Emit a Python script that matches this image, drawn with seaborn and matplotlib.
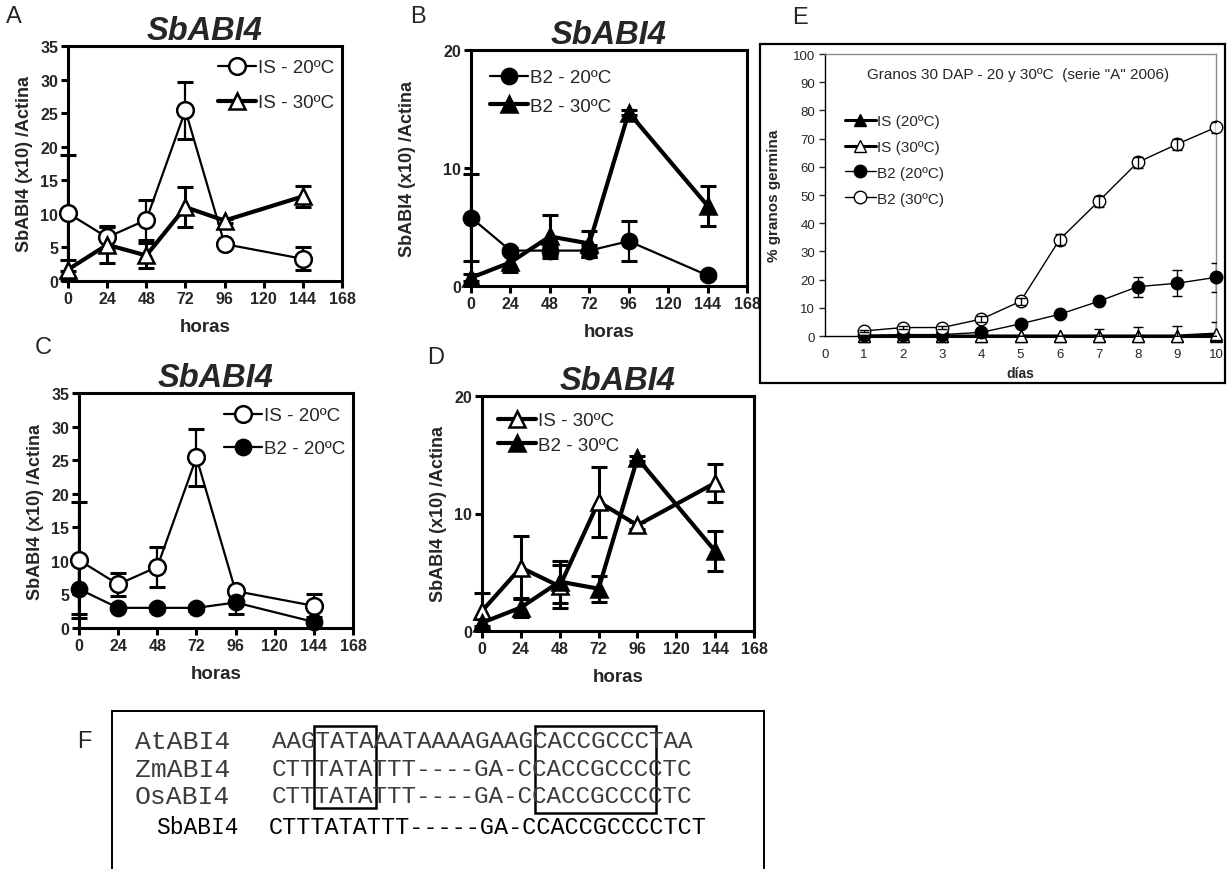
import numpy as np
import pandas as pd
import matplotlib
matplotlib.use("Agg")
import matplotlib.pyplot as plt
import seaborn as sns
from matplotlib.patches import Rectangle

sns.set_style("ticks")
plt.rcParams['font.family'] = ['Liberation Sans', 'DejaVu Sans']

# ---------------- data: SbABI4 expression (panels A-D) ----------------
hours = [0, 24, 48, 72, 96, 144]
hour_ticks = [0, 24, 48, 72, 96, 120, 144, 168]

is20 = [10.1, 6.5, 9.1, 25.4, 5.5, 3.3]
is20_err = [8.6, 1.7, 3.0, 4.2, 0.3, 1.7]
is30 = [1.7, 5.4, 3.8, 11.0, 9.0, 12.6]
is30_err = [1.5, 2.7, 1.8, 3.0, 0.3, 1.6]
b220 = [5.8, 3.0, 3.0, 3.0, 3.8, 0.9]
b220_err = [3.7, 0.2, 0.4, 0.5, 1.7, 0.2]
b230 = [0.7, 2.0, 4.2, 3.6, 14.7, 6.8]
b230_err = [0.3, 0.8, 1.8, 1.1, 0.2, 1.7]

# ---------------- data: germination (panel E) ----------------
days = [1, 2, 3, 4, 5, 6, 7, 8, 9, 10]
g_is20 = [0, 0, 0, 0, 0, 0, 0, 0, 0, 0]
g_is20_err = [0, 0, 0, 0, 0, 0, 0, 0, 0, 0]
g_is30 = [0, 0, 0, 0, 0, 0, 0, 0, 0, 0.7]
g_is30_err = [0, 0, 0, 0, 0, 0, 2.5, 3.2, 3.5, 4.3]
g_b220 = [0.2, 0.5, 0.5, 1.3, 4.3, 7.7, 12.3, 17.5, 18.7, 20.8]
g_b220_err = [0, 0.3, 0.3, 0.5, 0.8, 1.0, 0.8, 3.5, 4.6, 5.1]
g_b230 = [1.8, 3.0, 3.0, 6.0, 12.3, 34.2, 47.8, 61.6, 68.0, 74.0]
g_b230_err = [0.5, 0.5, 0.5, 1.0, 1.2, 2.0, 2.0, 2.0, 2.0, 2.0]

# ---------------- data: promoter alignment (panel F) ----------------
seq_names = ["AtABI4", "ZmABI4", "OsABI4"]
seq_texts = ["AAGTATAAATAAAAGAAGCACCGCCCTAA",
             "CTTTATATTT----GA-CCACCGCCCCTC",
             "CTTTATATTT----GA-CCACCGCCCCTC"]
sb_name = "SbABI4"
sb_text = "CTTTATATTT-----GA-CCACCGCCCCTCT"

W, H = 1227, 870
fig = plt.figure(figsize=(12.27, 8.7), dpi=100)


def axes_px(x0, y_top, x1, y_bot):
    return fig.add_axes([x0 / W, 1 - y_bot / H, (x1 - x0) / W, (y_bot - y_top) / H])


def px(x, y):
    return x / W, 1 - y / H


SER = {
    'IS20': dict(y=is20, err=is20_err, label='IS - 20ºC', marker='o', ms=12, mfc='white', lw=1.6, elw=1.6),
    'IS30': dict(y=is30, err=is30_err, label='IS - 30ºC', marker='^', ms=11, mfc='white', lw=3.0, elw=2.2),
    'B220': dict(y=b220, err=b220_err, label='B2 - 20ºC', marker='o', ms=11, mfc='black', lw=1.6, elw=1.6),
    'B230': dict(y=b230, err=b230_err, label='B2 - 30ºC', marker='^', ms=11, mfc='black', lw=3.0, elw=2.2),
}


def expr_panel(ax, keys, ymax, yticks, ylabelpad, leg_anchor, leg_spacing):
    for k in keys:
        s = SER[k]
        df = pd.DataFrame({'horas': hours, 'valor': s['y']})
        sns.lineplot(data=df, x='horas', y='valor', ax=ax, color='black',
                     linewidth=s['lw'], marker=s['marker'], markersize=s['ms'],
                     markerfacecolor=s['mfc'], markeredgecolor='black',
                     markeredgewidth=1.8, label=s['label'], errorbar=None,
                     sort=False, clip_on=False, zorder=3)
        ax.errorbar(hours, s['y'], yerr=s['err'], fmt='none', ecolor='black',
                    elinewidth=s['elw'], capsize=5.5, capthick=2.2,
                    clip_on=False, zorder=2)
    ax.set_xlim(0, 168)
    ax.set_ylim(0, ymax)
    ax.set_xticks(hour_ticks)
    ax.set_yticks(yticks)
    ax.set_xticklabels([str(t) for t in hour_ticks], fontweight='bold', fontsize=11.5)
    ax.set_yticklabels([str(t) for t in yticks], fontweight='bold', fontsize=11.5)
    ax.tick_params(direction='out', length=5, width=2.2, pad=2, color='black')
    for sp in ax.spines.values():
        sp.set_visible(True)
        sp.set_linewidth(2.2)
        sp.set_color('black')
    ax.set_xlabel('horas', fontsize=13.5, fontweight='bold', labelpad=8.5)
    ax.set_ylabel('SbABI4 (x10) /Actina', fontsize=13, fontweight='bold', labelpad=ylabelpad)
    ax.set_title('SbABI4', fontsize=23.5, fontweight='bold', fontstyle='italic', pad=5)
    ax.legend(loc='upper left', bbox_to_anchor=leg_anchor, frameon=False,
              fontsize=13.5, handlelength=2.0, handletextpad=0.15,
              borderpad=0, borderaxespad=0, labelspacing=leg_spacing)


axA = axes_px(68, 47, 342, 282)
expr_panel(axA, ['IS20', 'IS30'], 35, [0, 5, 10, 15, 20, 25, 30, 35], 5,
           ((218 - 68) / 274, (282 - 60) / 235), 0.95)

axB = axes_px(471, 51, 747, 287)
expr_panel(axB, ['B220', 'B230'], 20, [0, 10, 20], 20,
           ((490 - 471) / 276, (287 - 70) / 236), 0.6)

axC = axes_px(79, 394, 353, 629)
expr_panel(axC, ['IS20', 'B220'], 35, [0, 5, 10, 15, 20, 25, 30, 35], 5,
           ((224 - 79) / 274, (629 - 408) / 235), 0.85)

axD = axes_px(482, 397, 754, 632)
expr_panel(axD, ['IS30', 'B230'], 20, [0, 10, 20], 5,
           ((498 - 482) / 272, (632 - 413) / 235), 0.4)

# ---------------- panel E ----------------
axE = axes_px(825, 55, 1216, 337)
GS = [
    dict(y=g_is20, err=g_is20_err, label='IS (20ºC)', marker='^', ms=9, mfc='black', lw=2.2),
    dict(y=g_is30, err=g_is30_err, label='IS (30ºC)', marker='^', ms=9, mfc='white', lw=2.2),
    dict(y=g_b220, err=g_b220_err, label='B2 (20ºC)', marker='o', ms=9, mfc='black', lw=1.0),
    dict(y=g_b230, err=g_b230_err, label='B2 (30ºC)', marker='o', ms=9, mfc='white', lw=1.0),
]
for s in GS:
    df = pd.DataFrame({'dias': days, 'pct': s['y']})
    sns.lineplot(data=df, x='dias', y='pct', ax=axE, color='black',
                 linewidth=s['lw'], marker=s['marker'], markersize=s['ms'],
                 markerfacecolor=s['mfc'], markeredgecolor='black',
                 markeredgewidth=1.0, label=s['label'], errorbar=None,
                 sort=False, clip_on=False, zorder=3)
    axE.errorbar(days, s['y'], yerr=s['err'], fmt='none', ecolor='black',
                 elinewidth=1.0, capsize=3.5, capthick=1.0, zorder=5)
axE.set_xlim(0, 10)
axE.set_ylim(0, 100)
axE.set_xticks(range(0, 11))
axE.set_yticks(range(0, 101, 10))
axE.tick_params(axis='both', labelsize=9.5, pad=3)
axE.tick_params(axis='y', direction='out', length=4, width=1)
axE.tick_params(axis='x', length=0, pad=9)
axE.spines['left'].set_color('black')
axE.spines['bottom'].set_color('black')
axE.spines['left'].set_linewidth(1.0)
axE.spines['bottom'].set_linewidth(1.0)
for side in ['top', 'right']:
    axE.spines[side].set_visible(True)
    axE.spines[side].set_color('#8a8a8a')
    axE.spines[side].set_linewidth(1.0)
axE.set_xlabel('días', fontsize=10, fontweight='bold', labelpad=4)
axE.set_ylabel('% granos germina', fontsize=11, fontweight='bold', labelpad=9)
axE.text(0.495, 0.93, 'Granos 30 DAP - 20 y 30ºC  (serie "A" 2006)',
         transform=axE.transAxes, ha='center', va='center', fontsize=11)
axE.legend(loc='upper left', bbox_to_anchor=((845 - 825) / 391, (337 - 115) / 282),
           frameon=False, fontsize=11, handlelength=2.0, handletextpad=0.1,
           borderpad=0, borderaxespad=0, labelspacing=0.78)

fig.add_artist(Rectangle(px(760, 384), (1225 - 760) / W, (384 - 45) / H,
                         transform=fig.transFigure, fill=False,
                         edgecolor='black', linewidth=1.6))

# ---------------- panel F ----------------
fig.add_artist(Rectangle(px(112, 880), (764 - 112) / W, (880 - 712) / H,
                         transform=fig.transFigure, fill=False,
                         edgecolor='black', linewidth=1.4, clip_on=False))
rows_y = [742, 770, 797]
for name, seq, yy in zip(seq_names, seq_texts, rows_y):
    fig.text(*px(135, yy), name, fontsize=19, family='Liberation Mono',
             color='#3c3c3c', ha='left', va='center')
    fig.text(*px(272, yy), seq, fontsize=17.5, family='Liberation Mono',
             color='#3c3c3c', ha='left', va='center')
fig.text(*px(156, 828), sb_name, fontsize=16.5, family='Liberation Mono',
         color='black', ha='left', va='center')
fig.text(*px(269, 828), sb_text, fontsize=16.9, family='Liberation Mono',
         color='black', ha='left', va='center')
fig.add_artist(Rectangle(px(314, 809), (376 - 314) / W, (809 - 727) / H,
                         transform=fig.transFigure, fill=False,
                         edgecolor='black', linewidth=1.8))
fig.add_artist(Rectangle(px(535, 814), (656 - 535) / W, (814 - 727) / H,
                         transform=fig.transFigure, fill=False,
                         edgecolor='black', linewidth=1.8))

# ---------------- panel letters ----------------
for letter, (lx, ly) in {'A': (14, 17), 'B': (418, 17), 'C': (43, 348),
                         'D': (436, 358), 'E': (800, 18), 'F': (84, 742)}.items():
    fig.text(*px(lx, ly), letter, fontsize=17, ha='center', va='center')

fig.savefig('out.png', dpi=100)
